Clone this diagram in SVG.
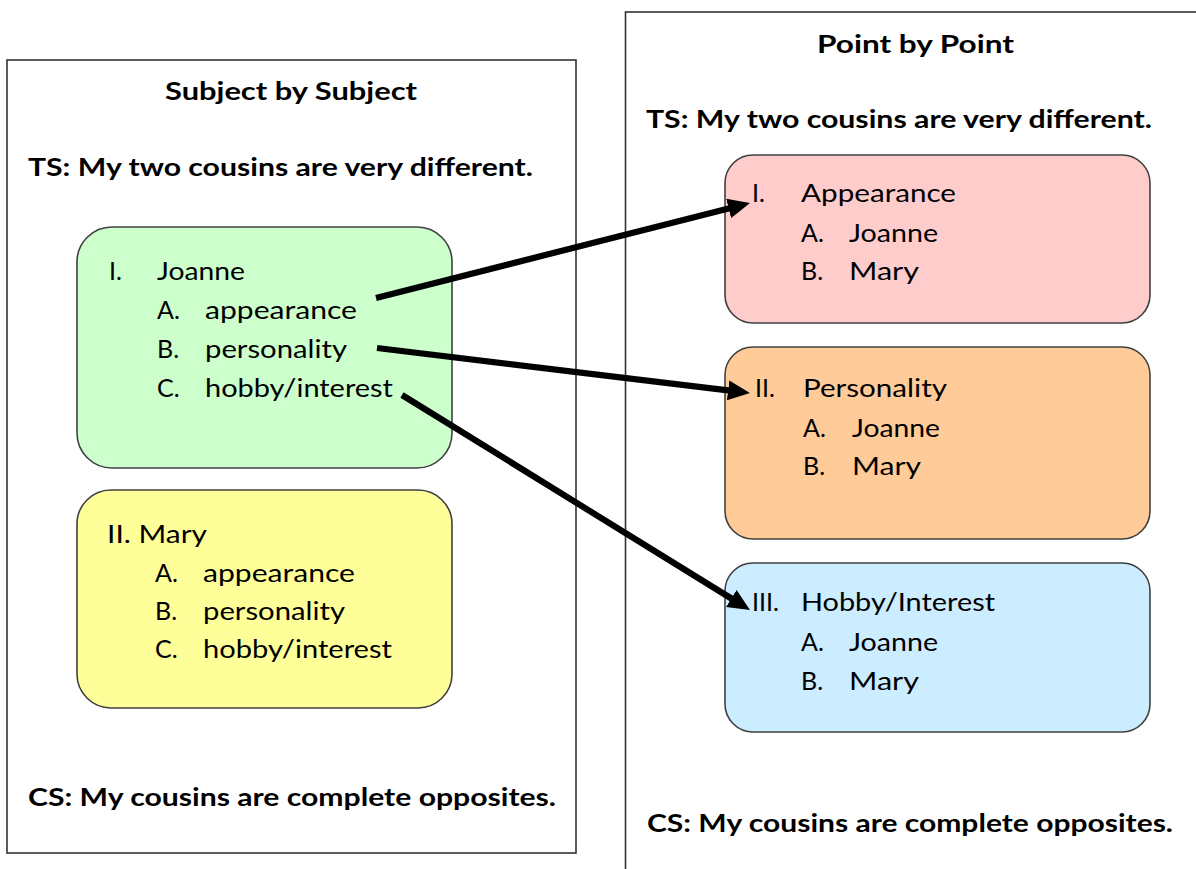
<svg xmlns="http://www.w3.org/2000/svg" width="1196" height="869" viewBox="0 0 1196 869">
<style>
text{font-family:"Lato","Liberation Sans",sans-serif;font-size:25px;fill:#000}
.b{font-weight:bold}
.frame{fill:#fff;stroke:#333;stroke-width:1.6}
.box{stroke:#404040;stroke-width:1.6}
.conn{stroke:#000;stroke-width:6.2;fill:none}
</style>
<defs>
<marker id="ah" markerUnits="userSpaceOnUse" markerWidth="22" markerHeight="20" refX="2" refY="10" orient="auto">
<path d="M0,0 L22,10 L0,20 z" fill="#000"/>
</marker>
</defs>
<rect width="1196" height="869" fill="#fff"/>

<g id="subject-frame">
<rect class="frame" x="7" y="60" width="569" height="793"/>
<text class="b" x="165" y="100" textLength="252" lengthAdjust="spacingAndGlyphs">Subject by Subject</text>
<text class="b" x="28" y="176" textLength="505" lengthAdjust="spacingAndGlyphs">TS: My two cousins are very different.</text>
<text class="b" x="28" y="806" textLength="528" lengthAdjust="spacingAndGlyphs">CS: My cousins are complete opposites.</text>
</g>

<g id="point-frame">
<rect class="frame" x="625.5" y="12" width="620" height="900"/>
<text class="b" x="817" y="53" textLength="197" lengthAdjust="spacingAndGlyphs">Point by Point</text>
<text class="b" x="646" y="128" textLength="506" lengthAdjust="spacingAndGlyphs">TS: My two cousins are very different.</text>
<text class="b" x="647" y="832" textLength="526" lengthAdjust="spacingAndGlyphs">CS: My cousins are complete opposites.</text>
</g>

<g id="joanne">
<rect class="box" x="77" y="227" width="375" height="241" rx="35" fill="#CCFFCC"/>
<text x="109" y="280">I.</text>
<text x="157" y="280" textLength="88" lengthAdjust="spacingAndGlyphs">Joanne</text>
<text x="157" y="319">A.</text>
<text x="205" y="319" textLength="152" lengthAdjust="spacingAndGlyphs">appearance</text>
<text x="157" y="358">B.</text>
<text x="205" y="358" textLength="142" lengthAdjust="spacingAndGlyphs">personality</text>
<text x="157" y="397">C.</text>
<text x="205" y="397" textLength="188" lengthAdjust="spacingAndGlyphs">hobby/interest</text>
</g>

<g id="mary">
<rect class="box" x="77" y="490" width="375" height="218" rx="34" fill="#FFFF99"/>
<text x="107" y="543" textLength="100" lengthAdjust="spacingAndGlyphs">II. Mary</text>
<text x="155" y="582">A.</text>
<text x="203" y="582" textLength="152" lengthAdjust="spacingAndGlyphs">appearance</text>
<text x="155" y="620">B.</text>
<text x="203" y="620" textLength="142" lengthAdjust="spacingAndGlyphs">personality</text>
<text x="155" y="658">C.</text>
<text x="203" y="658" textLength="189" lengthAdjust="spacingAndGlyphs">hobby/interest</text>
</g>

<g id="appearance">
<rect class="box" x="725" y="155" width="425" height="168" rx="28" fill="#FFCCCC"/>
<text x="752" y="202">I.</text>
<text x="801" y="202" textLength="155" lengthAdjust="spacingAndGlyphs">Appearance</text>
<text x="801" y="242">A.</text>
<text x="849" y="242" textLength="89" lengthAdjust="spacingAndGlyphs">Joanne</text>
<text x="801" y="280">B.</text>
<text x="849" y="280" textLength="70" lengthAdjust="spacingAndGlyphs">Mary</text>
</g>

<g id="personality">
<rect class="box" x="725" y="347" width="425" height="192" rx="28" fill="#FFCC99"/>
<text x="755" y="397">II.</text>
<text x="803" y="397" textLength="144" lengthAdjust="spacingAndGlyphs">Personality</text>
<text x="803" y="437">A.</text>
<text x="852" y="437" textLength="88" lengthAdjust="spacingAndGlyphs">Joanne</text>
<text x="803" y="475">B.</text>
<text x="852" y="475" textLength="69" lengthAdjust="spacingAndGlyphs">Mary</text>
</g>

<g id="hobby">
<rect class="box" x="725" y="563" width="425" height="169" rx="28" fill="#CCECFF"/>
<text x="752" y="611">III.</text>
<text x="801" y="611" textLength="194" lengthAdjust="spacingAndGlyphs">Hobby/Interest</text>
<text x="801" y="651">A.</text>
<text x="849" y="651" textLength="89" lengthAdjust="spacingAndGlyphs">Joanne</text>
<text x="801" y="690">B.</text>
<text x="849" y="690" textLength="70" lengthAdjust="spacingAndGlyphs">Mary</text>
</g>

<g id="connectors">
<line class="conn" x1="376" y1="298" x2="730.6" y2="207.9" marker-end="url(#ah)"/>
<line class="conn" x1="377" y1="348" x2="730.1" y2="390.6" marker-end="url(#ah)"/>
<line class="conn" x1="402" y1="395" x2="733.0" y2="599.5" marker-end="url(#ah)"/>
</g>
</svg>
